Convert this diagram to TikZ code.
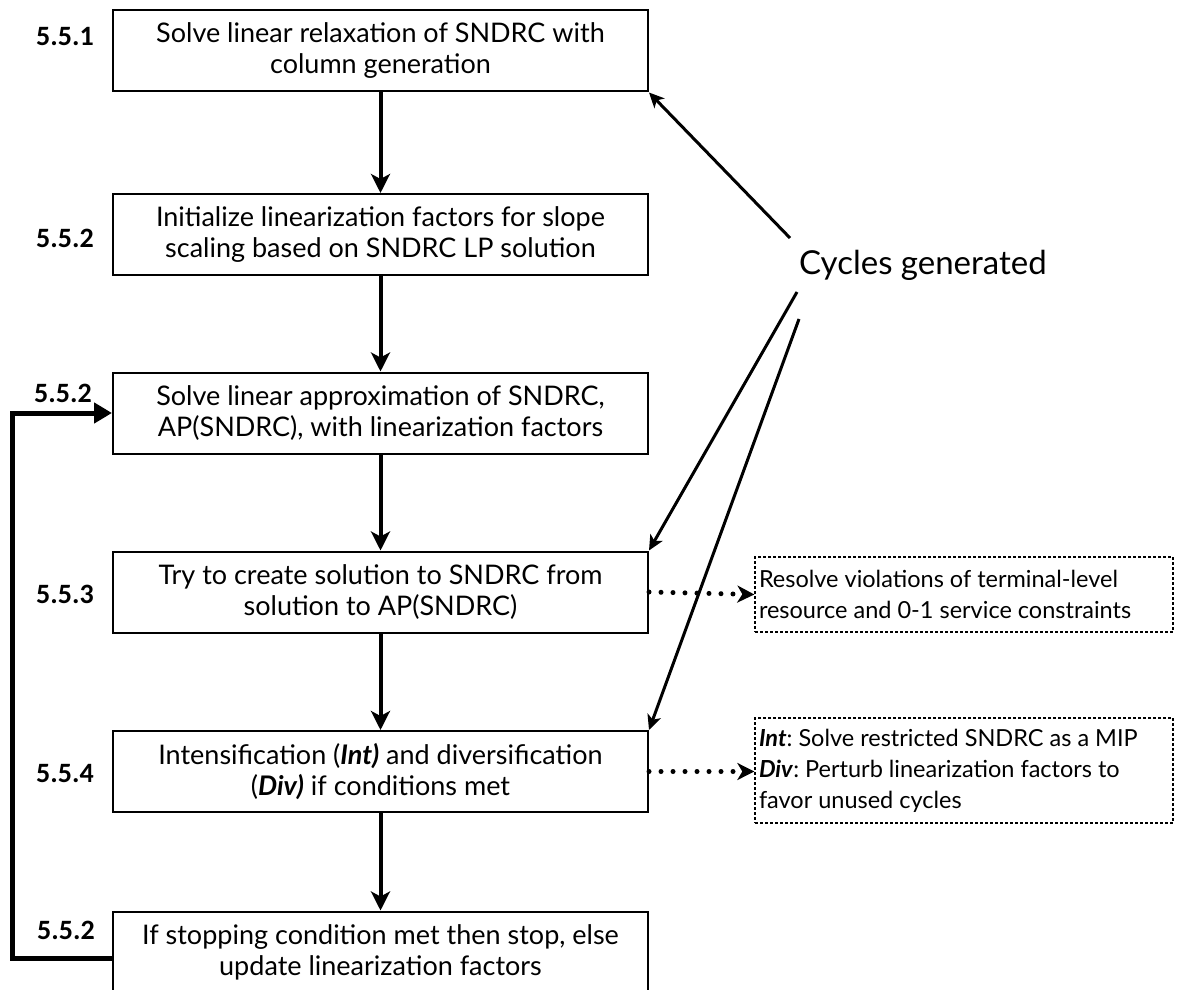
\documentclass[tikz,border=0pt]{standalone}
\usepackage{fontspec}
\setmainfont{Lato}
\newfontfamily\labelfont{Carlito}
\usetikzlibrary{arrows.meta}

\tikzset{
  stepbox/.style={draw, line width=2pt, minimum width=535pt, minimum height=81pt,
    align=center, inner sep=0pt, font=\fontsize{27}{31}\selectfont},
  notebox/.style={draw, line width=1.3pt, dash pattern=on 3pt off 2pt,
    minimum width=418pt, inner sep=4pt, align=flush left, text width=410pt,
    font=\fontsize{23.5}{31}\selectfont},
  steplabel/.style={font=\labelfont\bfseries\fontsize{28}{30}\selectfont, inner sep=0pt},
  flow/.style={line width=4pt, -{Stealth[length=19pt, width=19pt, inset=5pt]}},
  cycarrow/.style={line width=3pt, -{Stealth[length=15pt, width=14pt, inset=4pt]}},
  loopline/.style={line width=5pt, -{Triangle[length=18pt, width=20pt]}},
  noteline/.style={line width=5pt, line cap=round, dash pattern=on 0pt off 12pt,
    -{Stealth[length=17pt, width=17pt, inset=5pt, line cap=butt]}}
}
\newcommand{\bi}[1]{\textbf{\textit{#1}}}

\begin{document}
\frenchspacing
\begin{tikzpicture}[x=1pt, y=-1pt]
\useasboundingbox (0,0) rectangle (1184,990);
\clip (0,0) rectangle (1184,990);

% main steps
\node[stepbox] (s1) at (380.5,51)    {Solve linear relaxation of SNDRC with\\column generation};
\node[stepbox] (s2) at (380.5,234.5) {Initialize linearization factors for slope\\scaling based on SNDRC LP solution};
\node[stepbox] (s3) at (380.5,413)   {Solve linear approximation of SNDRC,\\AP(SNDRC), with linearization factors};
\node[stepbox] (s4) at (380.5,592)   {Try to create solution to SNDRC from\\solution to AP(SNDRC)};
\node[stepbox] (s5) at (380.5,771.5) {Intensification (\bi{Int)} and diversification\\(\bi{Div)} if conditions met};
\node[stepbox] (s6) at (380.5,952)   {If stopping condition met then stop, else\\update linearization factors};

% section labels
\node[steplabel] (l1) at (65,37)  {5.5.1};
\node[steplabel] (l2) at (65,238) {5.5.2};
\node[steplabel] (l3) at (63,393) {5.5.2};
\node[steplabel] (l4) at (65,594) {5.5.3};
\node[steplabel] (l5) at (65,774) {5.5.4};
\node[steplabel] (l6) at (66,930) {5.5.2};

% notes
\node[notebox, minimum height=75pt] (n1) at (964,594.5)
  {Resolve violations of terminal-level\\resource and 0-1 service constraints};
\node[notebox, minimum height=105pt] (n2) at (964,770.5)
  {\bi{Int}: Solve restricted SNDRC as a MIP\\\bi{Div}: Perturb linearization factors to\\favor unused cycles};

% cycles label
\node[font=\fontsize{33}{38}\selectfont, anchor=base west, inner sep=0pt] (cyc) at (799,274) {Cycles generated};
\coordinate (c1) at (790,238);
\coordinate (c2) at (797,292);
\coordinate (c3) at (799,319);

% flow
\draw[flow] (s1) -- (s2);
\draw[flow] (s2) -- (s3);
\draw[flow] (s3) -- (s4);
\draw[flow] (s4) -- (s5);
\draw[flow] (s5) -- (s6);

% loop back
\coordinate (lp) at (12,958);
\draw[loopline] (s6.west |- lp) -- (lp) |- (s3.west);

% cycles arrows
\draw[cycarrow] (c1) -- (s1.south east);
\draw[cycarrow] (c2) -- (s4.north east);
\draw[cycarrow] (c3) -- (s5.north east);

% note arrows
\draw[noteline] (s4.east) -- (n1.west);
\draw[noteline] (s5.east) -- (n2.west |- s5.east);
\end{tikzpicture}
\end{document}
